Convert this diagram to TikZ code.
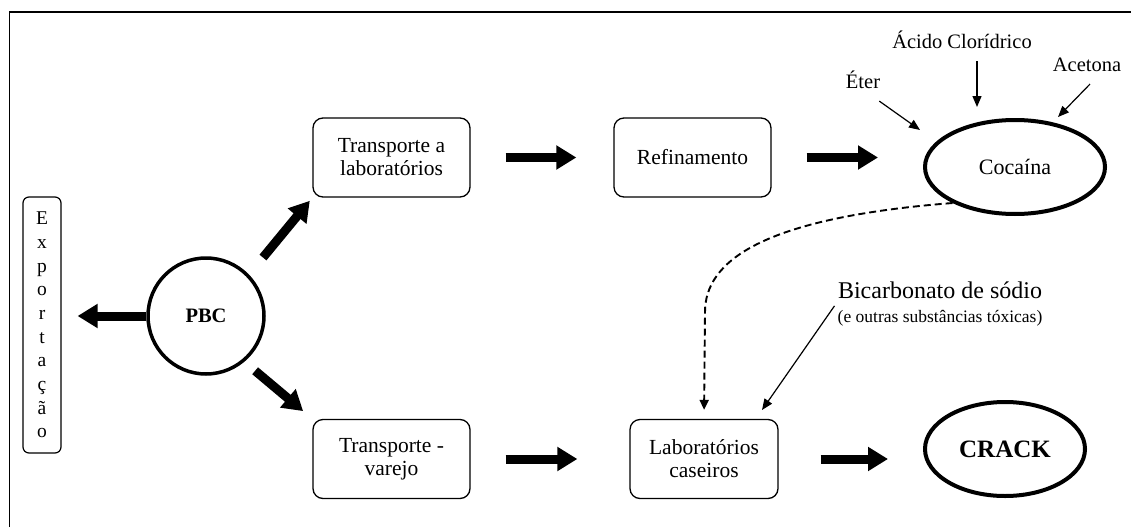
\documentclass[tikz,border=0pt]{standalone}
\usepackage{fontspec}
\setmainfont{Liberation Serif}
\usetikzlibrary{arrows.meta,shapes.geometric}

\tikzset{
  stagebox/.style={draw, rounded corners=10pt, line width=1.3pt,
    minimum width=157, minimum height=79, align=center,
    font=\fontsize{21.5}{23}\selectfont},
  bigarrow/.style={line width=9pt, -{Triangle[length=20pt,width=23pt]}},
  thinarrow/.style={line width=1.2pt, -{Triangle[length=11pt,width=9pt]}},
  label/.style={font=\fontsize{20.5}{22}\selectfont, inner sep=0pt},
}

\begin{document}
\begin{tikzpicture}[x=1pt, y=-1pt]
\useasboundingbox (0,0) rectangle (1131,527);
% frame along the top and left edges
\draw[line width=1.2pt] (9.5,527) -- (9.5,12) -- (1131,12);

% export column
\node[draw, rounded corners=6pt, line width=1.2pt, minimum width=38,
  minimum height=256, inner sep=0pt, align=center,
  font=\fontsize{19.5}{23.7}\selectfont] (exp) at (42,325)
  {E\\x\\p\\o\\r\\t\\a\\ç\\ã\\o};

% central product
\node[draw, circle, line width=3.5pt, minimum size=116, inner sep=0pt,
  font=\bfseries\fontsize{20.5}{22}\selectfont] (pbc) at (206,316) {PBC};

% upper branch
\node[stagebox] (tl) at (391.5,157.5) {Transporte a\\laboratórios};
\node[stagebox] (ref) at (692.5,157.5) {Refinamento};
\node[draw, ellipse, line width=4pt, minimum width=180, minimum height=94,
  inner sep=0pt, font=\fontsize{22}{24}\selectfont] (coc) at (1015,167) {Cocaína};

% lower branch
\node[stagebox] (tv) at (391.5,459) {Transporte -\\varejo};
\node[stagebox, minimum width=148] (lab) at (704,459) {Laboratórios\\caseiros};
\node[draw, ellipse, line width=4pt, minimum width=160, minimum height=94,
  inner sep=0pt, font=\bfseries\fontsize{25}{27}\selectfont] (crack) at (1005,449) {CRACK};

% reagents
\node[label] (eter) at (863,80) {Éter};
\node[label] (acido) at (962,40) {Ácido Clorídrico};
\node[label] (acet) at (1087,65) {Acetona};
\node[inner sep=0pt, font=\fontsize{24}{26}\selectfont] (bic) at (940,290)
  {Bicarbonato de sódio};
\node[inner sep=0pt, font=\fontsize{17.5}{19}\selectfont] (bicsub) at (940,318)
  {(e outras substâncias tóxicas)};

\coordinate (eterTip) at (920,130);
\coordinate (acidoTip) at (977,107);
\coordinate (acetTip) at (1058,117);
\coordinate (bicTip) at (762,410);

% main flow
\draw[bigarrow, shorten >=16pt] (pbc.west) -- (pbc.west -| exp.east);
\draw[bigarrow, shorten <=22pt, shorten >=4pt] (pbc.44) -- (tl.south west);
\draw[bigarrow, shorten <=14pt, shorten >=12pt] (pbc.-50) -- (tv.north west);
\draw[bigarrow, shorten <=35pt, shorten >=37pt] (tl.east) -- (ref.west);
\draw[bigarrow, shorten <=35pt, shorten >=45pt] (ref.east) -- (ref.east -| coc.west);
\draw[bigarrow, shorten <=35pt, shorten >=52pt] (tv.east) -- (lab.west);
\draw[bigarrow, shorten <=42pt, shorten >=35pt] (lab.east) -- (lab.east -| crack.west);

% reagent arrows
\draw[thinarrow] ([shift={(-1,12)}]eter.south east) -- (eterTip);
\draw[thinarrow] ([yshift=-12pt]acido.south -| acidoTip) -- (acidoTip);
\draw[thinarrow] ([shift={(3,12)}]acet.south) -- (acetTip);
\draw[thinarrow] ([shift={(-3,-4)}]bicsub.north west) -- (bicTip);

% cocaine feeding the home labs
\draw[line width=1.9pt, dash pattern=on 7pt off 4pt,
  -{Triangle[length=10pt,width=9pt]}, shorten >=9pt]
  (coc.210) .. controls (760,218) and (705,262) .. (705,312) -- (lab.north);
\end{tikzpicture}
\end{document}
